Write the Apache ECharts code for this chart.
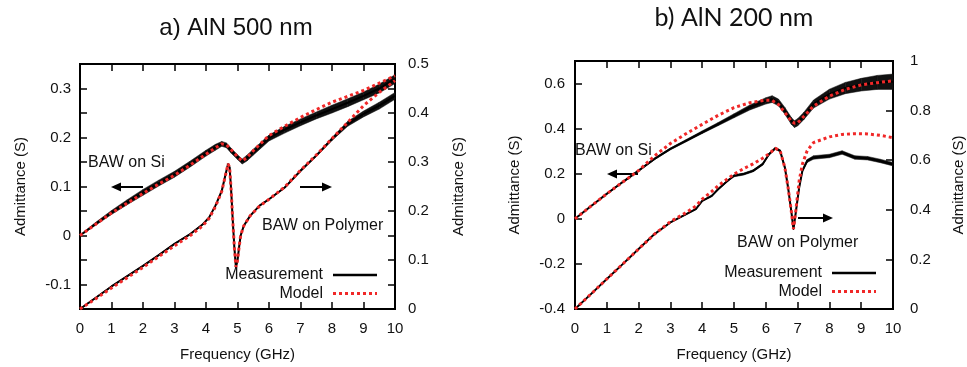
<!DOCTYPE html>
<html>
<head>
<meta charset="utf-8">
<script src="https://cdn.jsdelivr.net/npm/echarts@6/dist/echarts.min.js"></script>
<style>
  html, body { margin: 0; padding: 0; background: #fff; }
  #main { width: 967px; height: 367px; }
</style>
</head>
<body>
<div id="main"></div>
<script>
// a) AlN 500 nm -- BAW on Si (left axis)
const fSiA = [0, 0.5, 1, 1.5, 2, 2.5, 3, 3.5, 4, 4.3, 4.5, 4.65, 4.8, 5.0, 5.15, 5.3, 5.5, 6, 6.5, 7, 7.5, 8, 8.5, 9, 9.5, 10];
const measSiA = [0, 0.024, 0.047, 0.068, 0.088, 0.107, 0.125, 0.146, 0.168, 0.180, 0.187, 0.184, 0.173, 0.160, 0.151, 0.158, 0.170, 0.199, 0.216, 0.231, 0.245, 0.258, 0.271, 0.285, 0.300, 0.319];
const modelSiA = [0, 0.023, 0.046, 0.066, 0.086, 0.105, 0.123, 0.144, 0.166, 0.179, 0.187, 0.185, 0.175, 0.161, 0.152, 0.159, 0.173, 0.204, 0.223, 0.241, 0.257, 0.272, 0.284, 0.296, 0.311, 0.326];
const noiseSiA = [0.001, 0.003, 0.004, 0.005, 0.006, 0.006, 0.006, 0.006, 0.006, 0.006, 0.005, 0.005, 0.005, 0.005, 0.005, 0.006, 0.006, 0.006, 0.007, 0.007, 0.007, 0.008, 0.008, 0.008, 0.009, 0.009];

// a) AlN 500 nm -- BAW on Polymer (right axis)
const fPolyA = [0, 0.5, 1, 1.5, 2, 2.5, 3, 3.5, 3.9, 4.1, 4.3, 4.5, 4.6, 4.7, 4.75, 4.8, 4.85, 4.9, 4.95, 5.0, 5.05, 5.1, 5.2, 5.4, 5.7, 6, 6.5, 7, 7.5, 8, 8.5, 9, 9.5, 10];
const measPolyA = [0, 0.023, 0.046, 0.067, 0.088, 0.110, 0.133, 0.153, 0.173, 0.187, 0.211, 0.241, 0.269, 0.296, 0.289, 0.241, 0.180, 0.126, 0.085, 0.099, 0.126, 0.150, 0.170, 0.190, 0.211, 0.224, 0.248, 0.282, 0.313, 0.347, 0.378, 0.398, 0.415, 0.435];
const modelPolyA = [0, 0.021, 0.043, 0.064, 0.085, 0.107, 0.129, 0.150, 0.170, 0.185, 0.209, 0.240, 0.268, 0.296, 0.289, 0.241, 0.180, 0.126, 0.086, 0.099, 0.126, 0.150, 0.170, 0.190, 0.210, 0.224, 0.249, 0.283, 0.314, 0.348, 0.381, 0.415, 0.442, 0.466];
const noisePolyA = [0.001, 0.001, 0.001, 0.001, 0.001, 0.001, 0.001, 0.001, 0.001, 0.001, 0.001, 0.001, 0.001, 0.001, 0.001, 0.001, 0.001, 0.001, 0.001, 0.001, 0.001, 0.001, 0.001, 0.001, 0.001, 0.001, 0.001, 0.002, 0.002, 0.003, 0.005, 0.006, 0.007, 0.007];

// b) AlN 200 nm -- BAW on Si (left axis)
const fSiB = [0, 0.5, 1, 1.5, 2, 2.5, 3, 3.5, 4, 4.5, 5, 5.5, 6, 6.2, 6.4, 6.6, 6.8, 6.9, 7.0, 7.2, 7.5, 8, 8.5, 9, 9.5, 10];
const measSiB = [0, 0.056, 0.111, 0.163, 0.214, 0.266, 0.310, 0.347, 0.384, 0.420, 0.457, 0.494, 0.523, 0.531, 0.516, 0.479, 0.435, 0.420, 0.428, 0.457, 0.509, 0.553, 0.580, 0.595, 0.605, 0.608];
const modelSiB = [0, 0.056, 0.111, 0.163, 0.214, 0.279, 0.334, 0.378, 0.419, 0.459, 0.493, 0.515, 0.526, 0.525, 0.507, 0.471, 0.434, 0.424, 0.425, 0.455, 0.500, 0.544, 0.574, 0.594, 0.604, 0.612];
const noiseSiB = [0.002, 0.002, 0.003, 0.003, 0.003, 0.004, 0.004, 0.005, 0.006, 0.007, 0.009, 0.011, 0.014, 0.015, 0.015, 0.015, 0.015, 0.015, 0.016, 0.016, 0.018, 0.022, 0.025, 0.028, 0.031, 0.034];

// b) AlN 200 nm -- BAW on Polymer (right axis)
const fPolyB = [0, 0.5, 1, 1.5, 2, 2.5, 3, 3.5, 3.8, 4, 4.3, 4.5, 4.8, 5, 5.3, 5.6, 5.9, 6.1, 6.3, 6.45, 6.6, 6.7, 6.8, 6.87, 6.95, 7.05, 7.15, 7.3, 7.5, 8, 8.4, 8.8, 9.2, 9.6, 10];
const measPolyB = [0, 0.060, 0.121, 0.181, 0.242, 0.302, 0.349, 0.383, 0.403, 0.436, 0.456, 0.483, 0.517, 0.537, 0.544, 0.557, 0.584, 0.624, 0.648, 0.638, 0.570, 0.490, 0.396, 0.322, 0.396, 0.490, 0.557, 0.597, 0.611, 0.617, 0.631, 0.611, 0.608, 0.597, 0.584];
const modelPolyB = [0, 0.060, 0.121, 0.181, 0.242, 0.302, 0.352, 0.389, 0.415, 0.443, 0.474, 0.497, 0.525, 0.544, 0.566, 0.585, 0.608, 0.626, 0.648, 0.638, 0.570, 0.490, 0.396, 0.322, 0.403, 0.517, 0.584, 0.638, 0.671, 0.694, 0.704, 0.707, 0.706, 0.700, 0.691];
const noisePolyB = [0.001, 0.001, 0.001, 0.001, 0.001, 0.001, 0.001, 0.002, 0.002, 0.002, 0.003, 0.003, 0.003, 0.004, 0.004, 0.004, 0.004, 0.004, 0.004, 0.004, 0.003, 0.003, 0.003, 0.003, 0.003, 0.004, 0.005, 0.006, 0.007, 0.007, 0.007, 0.007, 0.007, 0.007, 0.007];

const xTicks = [0, 10, 1];          // min, max, interval
const yTicksA = [-0.15, 0.35, 0.05];
const y2TicksA = [0, 0.5, 0.05];
const yTicksB = [-0.4, 0.7, 0.2];
const y2TicksB = [0, 1, 0.2];

const FONT = '"Liberation Sans", Arial, sans-serif';
const RED = '#f02828';

const pair = (f, v) => f.map((x, i) => [x, v[i]]);

// labels only on multiples of 0.1 (ticks every 0.05)
function tenths(v) {
  if (Math.abs(v * 10 - Math.round(v * 10)) > 1e-6) return '';
  return String(Math.round(v * 10) / 10);
}

const axisLine = { show: true, onZero: false, lineStyle: { color: '#000', width: 2 } };
const axisTick = { show: true, inside: true, length: 7, lineStyle: { color: '#000', width: 1.5 } };

function xAxisPair(grid) {
  const base = {
    gridIndex: grid, type: 'value', min: xTicks[0], max: xTicks[1], interval: xTicks[2],
    splitLine: { show: false }, axisLine: axisLine, axisTick: axisTick
  };
  return [
    Object.assign({}, base, {
      position: 'bottom',
      name: 'Frequency (GHz)', nameLocation: 'middle', nameGap: 38,
      nameTextStyle: { fontFamily: FONT, fontSize: 15, color: '#111' },
      axisLabel: { fontFamily: FONT, fontSize: 15, color: '#111', margin: 12 }
    }),
    Object.assign({}, base, { position: 'top', axisLabel: { show: false } })
  ];
}

function yAxis(grid, t, pos, fmt, gap, margin) {
  return {
    gridIndex: grid, type: 'value', position: pos,
    min: t[0], max: t[1], interval: t[2],
    splitLine: { show: false }, axisLine: axisLine, axisTick: axisTick,
    axisLabel: { fontFamily: FONT, fontSize: 15, color: '#111', margin: margin, formatter: fmt, showMinLabel: true, showMaxLabel: true },
    name: 'Admittance (S)', nameLocation: 'middle', nameRotate: 90, nameGap: gap,
    nameTextStyle: { fontFamily: FONT, fontSize: 15, color: '#111' }
  };
}

// noise band drawn as quads between consecutive samples
function bandItem(params, api) {
  const p = [
    api.coord([api.value(0), api.value(1)]),
    api.coord([api.value(3), api.value(4)]),
    api.coord([api.value(3), api.value(5)]),
    api.coord([api.value(0), api.value(2)])
  ];
  return { type: 'polygon', shape: { points: p }, style: { fill: '#111', stroke: '#111', lineWidth: 0.5 } };
}

function curve(xi, yi, f, meas, noise, model) {
  const band = [];
  for (let i = 0; i < f.length - 1; i++) {
    band.push([f[i], meas[i] - noise[i], meas[i] + noise[i], f[i + 1], meas[i + 1] - noise[i + 1], meas[i + 1] + noise[i + 1]]);
  }
  const common = { xAxisIndex: xi, yAxisIndex: yi, silent: true, animation: false };
  return [
    Object.assign({}, common, { type: 'custom', renderItem: bandItem, data: band, z: 2 }),
    Object.assign({}, common, { type: 'line', showSymbol: false, data: pair(f, meas), z: 2, lineStyle: { color: '#000', width: 2 } }),
    Object.assign({}, common, { type: 'line', showSymbol: false, data: pair(f, model), z: 3, lineStyle: { color: RED, width: 3, type: [3, 3], cap: 'butt' } })
  ];
}

function txt(x, y, s, size, align, family) {
  return { type: 'text', x: x, y: y, style: { text: s, fill: '#111', font: size + 'px ' + (family || FONT), align: align || 'left', verticalAlign: 'middle' } };
}
function arrow(x1, x2, y) {
  const dir = x2 > x1 ? 1 : -1;
  const hx = x2 - dir * 10;
  return [
    { type: 'line', shape: { x1: x1, y1: y, x2: hx, y2: y }, style: { stroke: '#000', lineWidth: 2 } },
    { type: 'polygon', shape: { points: [[x2, y], [hx, y - 4.5], [hx, y + 4.5]] }, style: { fill: '#000' } }
  ];
}
function legend(xr, y1, y2) {
  return [
    txt(xr, y1, 'Measurement', 16, 'right'),
    { type: 'line', shape: { x1: xr + 10, y1: y1, x2: xr + 54, y2: y1 }, style: { stroke: '#000', lineWidth: 2.5 } },
    txt(xr, y2, 'Model', 16, 'right'),
    { type: 'line', shape: { x1: xr + 10, y1: y2, x2: xr + 54, y2: y2 }, style: { stroke: RED, lineWidth: 3, lineDash: [3, 3] } }
  ];
}

const option = {
  animation: false,
  backgroundColor: '#fff',
  grid: [
    { left: 80, top: 64, width: 315, height: 245, show: true, borderColor: '#000', borderWidth: 2 },
    { left: 575, top: 61, width: 321, height: 248, show: true, borderColor: '#000', borderWidth: 2 }
  ],
  xAxis: xAxisPair(0).concat(xAxisPair(1)),
  yAxis: [
    yAxis(0, yTicksA, 'left', tenths, 52, 9),
    yAxis(0, y2TicksA, 'right', tenths, 56, 13),
    yAxis(1, yTicksB, 'left', v => (v > 0.65 ? '' : tenths(v)), 53, 10),
    yAxis(1, y2TicksB, 'right', tenths, 58, 17)
  ],
  series: [].concat(
    curve(0, 0, fSiA, measSiA, noiseSiA, modelSiA),
    curve(0, 1, fPolyA, measPolyA, noisePolyA, modelPolyA),
    curve(2, 2, fSiB, measSiB, noiseSiB, modelSiB),
    curve(2, 3, fPolyB, measPolyB, noisePolyB, modelPolyB)
  ),
  graphic: [].concat(
    [
      txt(236, 28, 'a) AlN 500 nm', 24, 'center'),
      txt(734, 18, 'b) AlN 200 nm', 25, 'center', 'Lato, sans-serif'),
      txt(88, 163, 'BAW on Si', 16),
      txt(262, 226, 'BAW on Polymer', 16),
      txt(575, 151, 'BAW on Si', 16),
      txt(737, 243, 'BAW on Polymer', 16)
    ],
    arrow(143, 111, 187),
    arrow(300, 332, 187),
    arrow(638, 607, 174),
    arrow(798, 833, 218),
    legend(323, 275, 293.5),
    legend(822, 273, 291.5)
  )
};

const chart = echarts.init(document.getElementById('main'), null, { renderer: 'canvas' });
chart.setOption(option);
</script>
</body>
</html>
